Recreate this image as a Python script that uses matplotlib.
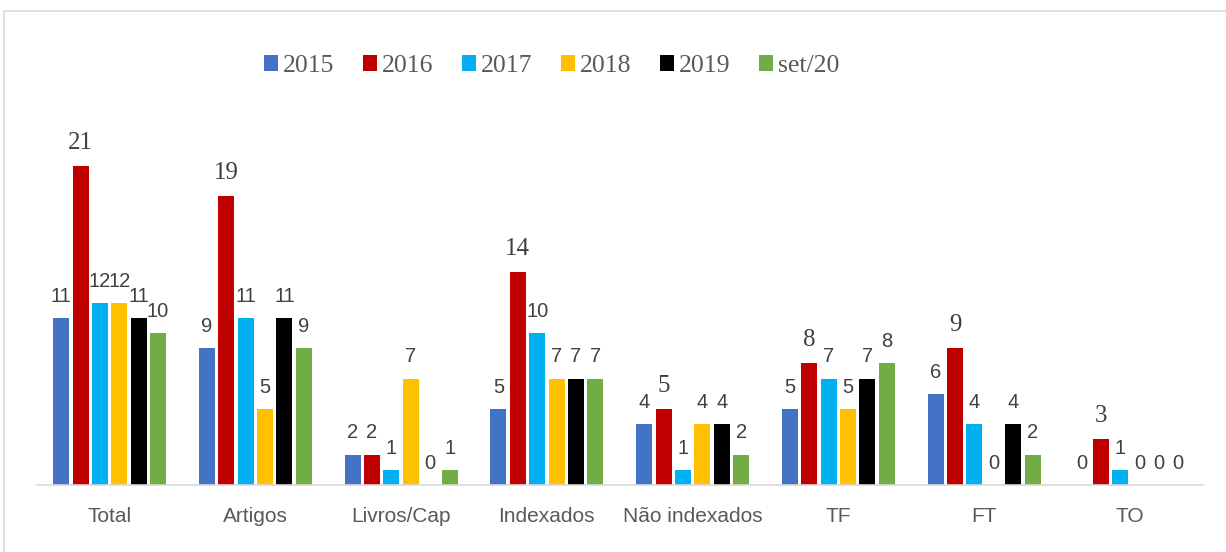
import numpy as np
import matplotlib.pyplot as plt
from matplotlib.patches import Rectangle

categories = ['Total', 'Artigos', 'Livros/Cap', 'Indexados', 'Não indexados', 'TF', 'FT', 'TO']
series_names = ['2015', '2016', '2017', '2018', '2019', 'set/20']
v2015 = [11, 9, 2, 5, 4, 5, 6, 0]
v2016 = [21, 19, 2, 14, 5, 8, 9, 3]
v2017 = [12, 11, 1, 10, 1, 7, 4, 1]
v2018 = [12, 5, 7, 7, 4, 5, 0, 0]
v2019 = [11, 11, 0, 7, 4, 7, 4, 0]
vset20 = [10, 9, 1, 7, 2, 8, 2, 0]

series = [v2015, v2016, v2017, v2018, v2019, vset20]
colors = ['#4472C4', '#C00000', '#00B0F0', '#FFC000', '#000000', '#70AD47']
# the 2016 labels are set in a serif face, except the Livros/Cap one
serif_2016 = [True, True, False, True, True, True, True, True]

fig = plt.figure(figsize=(12.26, 5.52), dpi=100)
# light frame around the chart area
fig.patches.append(Rectangle((0.003, -0.01), 1.2, 0.99, transform=fig.transFigure,
                             fill=False, edgecolor='#D9D9D9', linewidth=1.2))

ax = fig.add_axes([0.030, 0.1214, 0.951, 0.688])
x = np.arange(len(categories))
step = 0.133
width = 0.11

for i, (vals, name, col) in enumerate(zip(series, series_names, colors)):
    pos = x + (i - 2.5) * step
    ax.bar(pos, vals, width=width, color=col, label=name, zorder=2)
    for j, (px, v) in enumerate(zip(pos, vals)):
        if i == 1 and serif_2016[j]:
            ax.text(px, v + 0.8, str(v), ha='center', va='bottom',
                    fontsize=18, family='Liberation Serif', color='#404040')
        else:
            ax.text(px, v + 0.8, str(v), ha='center', va='bottom',
                    fontsize=14.5, family='Liberation Sans', color='#404040')

ax.set_xlim(-0.5, len(categories) - 0.5)
ax.set_ylim(0, 25)
ax.set_xticks(x)
ax.set_xticklabels(categories, fontsize=15, family='Liberation Sans', color='#595959')
ax.tick_params(axis='x', length=0, pad=16)
ax.set_yticks([])
for s in ['top', 'right', 'left']:
    ax.spines[s].set_visible(False)
ax.spines['bottom'].set_color('#D9D9D9')
ax.spines['bottom'].set_linewidth(1.2)

leg = fig.legend(loc='center', bbox_to_anchor=(0.450, 0.880), ncol=6, frameon=False,
                 prop={'family': 'Liberation Serif', 'size': 18.5},
                 handlelength=0.55, handleheight=0.55, handletextpad=0.2, columnspacing=1.1)
for t in leg.get_texts():
    t.set_color('#595959')

fig.savefig('out.png', dpi=100)
